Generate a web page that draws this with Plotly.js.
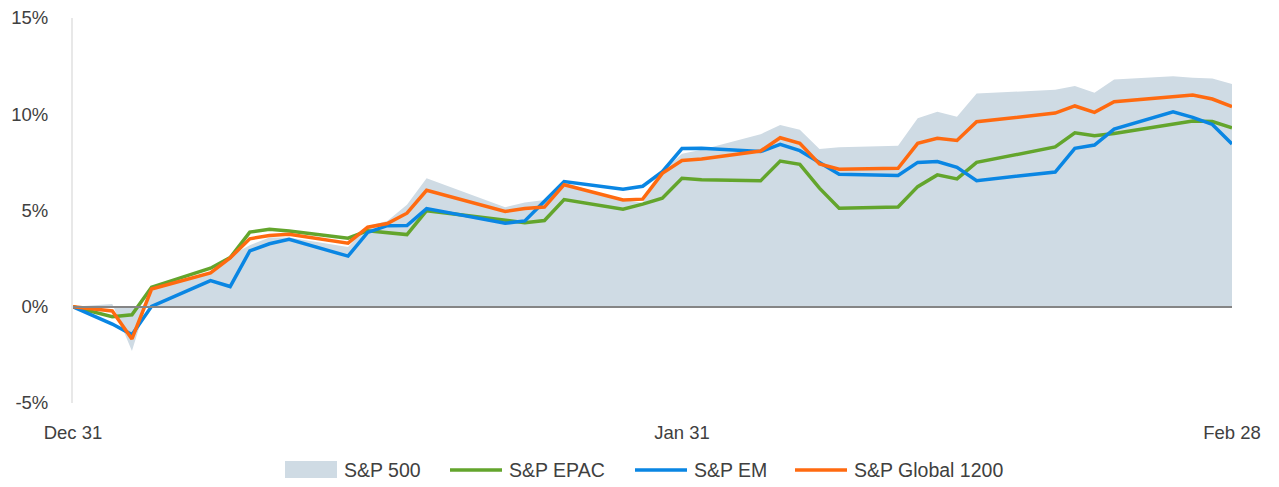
<!DOCTYPE html>
<html>
<head>
<meta charset="utf-8">
<script src="https://cdn.plot.ly/plotly-3.0.1.min.js"></script>
<style>
  html, body { margin: 0; padding: 0; background: #ffffff; }
  #chart { width: 1279px; height: 487px; }
</style>
</head>
<body>
<div id="chart"></div>
<script>
// Trading dates (calendar axis)
const dates = [
  '2018-12-31','2019-01-02','2019-01-03','2019-01-04','2019-01-07','2019-01-08','2019-01-09',
  '2019-01-10','2019-01-11','2019-01-14','2019-01-15','2019-01-16','2019-01-17','2019-01-18',
  '2019-01-22','2019-01-23','2019-01-24','2019-01-25','2019-01-28','2019-01-29','2019-01-30',
  '2019-01-31','2019-02-01','2019-02-04','2019-02-05','2019-02-06','2019-02-07','2019-02-08',
  '2019-02-11','2019-02-12','2019-02-13','2019-02-14','2019-02-15','2019-02-19','2019-02-20',
  '2019-02-21','2019-02-22','2019-02-25','2019-02-26','2019-02-27','2019-02-28'
];

// Cumulative returns (%)
const sp500 = [
  0, 0.14, -2.30, 1.00, 1.80, 2.65, 3.20,
  3.60, 3.60, 3.10, 4.20, 4.45, 5.30, 6.67,
  5.17, 5.41, 5.55, 6.45, 5.55, 5.40, 7.05,
  7.95, 8.15, 8.96, 9.44, 9.20, 8.20, 8.28,
  8.37, 9.79, 10.13, 9.87, 11.08, 11.27, 11.47,
  11.12, 11.81, 11.98, 11.89, 11.86, 11.57
];
const spEpac = [
  0, -0.52, -0.42, 1.02, 2.00, 2.55, 3.88,
  4.03, 3.94, 3.56, 3.95, 3.84, 3.75, 4.99,
  4.53, 4.37, 4.48, 5.57, 5.07, 5.33, 5.64,
  6.67, 6.60, 6.54, 7.57, 7.40, 6.16, 5.12,
  5.18, 6.24, 6.85, 6.64, 7.50, 8.30, 9.04,
  8.89, 9.00, 9.47, 9.65, 9.62, 9.30
];
const spEm = [
  0, -0.90, -1.45, 0.02, 1.36, 1.05, 2.90,
  3.27, 3.50, 2.63, 3.86, 4.21, 4.22, 5.10,
  4.34, 4.46, 5.48, 6.50, 6.10, 6.26, 7.02,
  8.22, 8.23, 8.06, 8.44, 8.11, 7.49, 6.88,
  6.82, 7.50, 7.54, 7.24, 6.55, 7.00, 8.23,
  8.40, 9.23, 10.13, 9.84, 9.47, 8.45
];
const spGlobal = [
  0, -0.22, -1.67, 0.92, 1.76, 2.54, 3.53,
  3.70, 3.76, 3.30, 4.13, 4.32, 4.86, 6.05,
  4.95, 5.10, 5.18, 6.34, 5.55, 5.59, 6.93,
  7.60, 7.68, 8.09, 8.78, 8.49, 7.42, 7.14,
  7.19, 8.49, 8.75, 8.64, 9.61, 10.06, 10.43,
  10.10, 10.65, 10.94, 11.00, 10.79, 10.39
];

const seriesNames = ['S&P 500', 'S&P EPAC', 'S&P EM', 'S&P Global 1200'];
const tickDates = ['2018-12-31', '2019-01-31', '2019-02-28'];
const tickLabels = ['Dec 31', 'Jan 31', 'Feb 28'];
const yTickVals = [-5, 0, 5, 10, 15];
const yTickLabels = ['-5%', '0%', '5%', '10%', '15%'];

const C_AREA = '#cfdbe4';
const C_GREEN = '#63a52c';
const C_BLUE = '#0a86e3';
const C_ORANGE = '#ff6a10';
const seriesColors = [C_AREA, C_GREEN, C_BLUE, C_ORANGE];
const FONT = '"Liberation Sans", Arial, sans-serif';
const TEXT = '#404040';
const LW = 3.5;

// plot geometry (pixels) used to place the custom legend
const W = 1279, H = 487;
const M = { l: 73, r: 47, t: 18, b: 84 };
const PW = W - M.l - M.r, PH = H - M.t - M.b;
const px2x = px => (px - M.l) / PW;
const py2y = py => (H - M.b - py) / PH;

const traces = [
  { x: dates, y: sp500, type: 'scatter', mode: 'none', fill: 'tozeroy',
    fillcolor: C_AREA, name: seriesNames[0], hoverinfo: 'skip' },
  { x: dates, y: spEpac, type: 'scatter', mode: 'lines', name: seriesNames[1],
    line: { color: C_GREEN, width: LW } },
  { x: dates, y: spEm, type: 'scatter', mode: 'lines', name: seriesNames[2],
    line: { color: C_BLUE, width: LW } },
  { x: dates, y: spGlobal, type: 'scatter', mode: 'lines', name: seriesNames[3],
    line: { color: C_ORANGE, width: LW } }
];

// Custom legend (symbol start px)
const legendSymStart = [285, 450, 635, 795];
const SYM_W = 52, TXT_GAP = 5, LEG_Y = 470;
const shapes = [];
const annotations = [];
seriesNames.forEach((name, i) => {
  const x0 = legendSymStart[i], x1 = x0 + SYM_W;
  if (i === 0) {
    shapes.push({ type: 'rect', xref: 'paper', yref: 'paper',
      x0: px2x(x0), x1: px2x(x1), y0: py2y(LEG_Y + 8), y1: py2y(LEG_Y - 9),
      fillcolor: seriesColors[i], line: { width: 0 } });
  } else {
    shapes.push({ type: 'line', xref: 'paper', yref: 'paper',
      x0: px2x(x0), x1: px2x(x1), y0: py2y(LEG_Y), y1: py2y(LEG_Y),
      line: { color: seriesColors[i], width: LW } });
  }
  annotations.push({ xref: 'paper', yref: 'paper', x: px2x(x1 + TXT_GAP), y: py2y(LEG_Y),
    xanchor: 'left', yanchor: 'middle', showarrow: false, text: name,
    font: { family: FONT, size: 19.5, color: TEXT } });
});

const layout = {
  width: W, height: H,
  margin: M,
  paper_bgcolor: '#ffffff', plot_bgcolor: '#ffffff',
  font: { family: FONT, size: 18.5, color: TEXT },
  showlegend: false,
  xaxis: {
    type: 'date',
    range: [tickDates[0], tickDates[2]],
    tickmode: 'array', tickvals: tickDates, ticktext: tickLabels,
    showgrid: false, zeroline: false, showline: false,
    ticks: '', ticklabelstandoff: 16,
    tickfont: { family: FONT, size: 18.5, color: TEXT },
    fixedrange: true
  },
  yaxis: {
    range: [-5, 15],
    tickmode: 'array', tickvals: yTickVals, ticktext: yTickLabels,
    showgrid: false,
    zeroline: true, zerolinecolor: '#858585', zerolinewidth: 2,
    zerolinelayer: 'above traces',
    showline: true, linecolor: '#e8e8e8', linewidth: 2,
    ticks: '', ticklabelstandoff: 19,
    tickfont: { family: FONT, size: 18.5, color: TEXT },
    fixedrange: true
  },
  shapes: shapes,
  annotations: annotations,
  hovermode: false
};

Plotly.newPlot('chart', traces, layout, { displayModeBar: false, staticPlot: true });
</script>
</body>
</html>
